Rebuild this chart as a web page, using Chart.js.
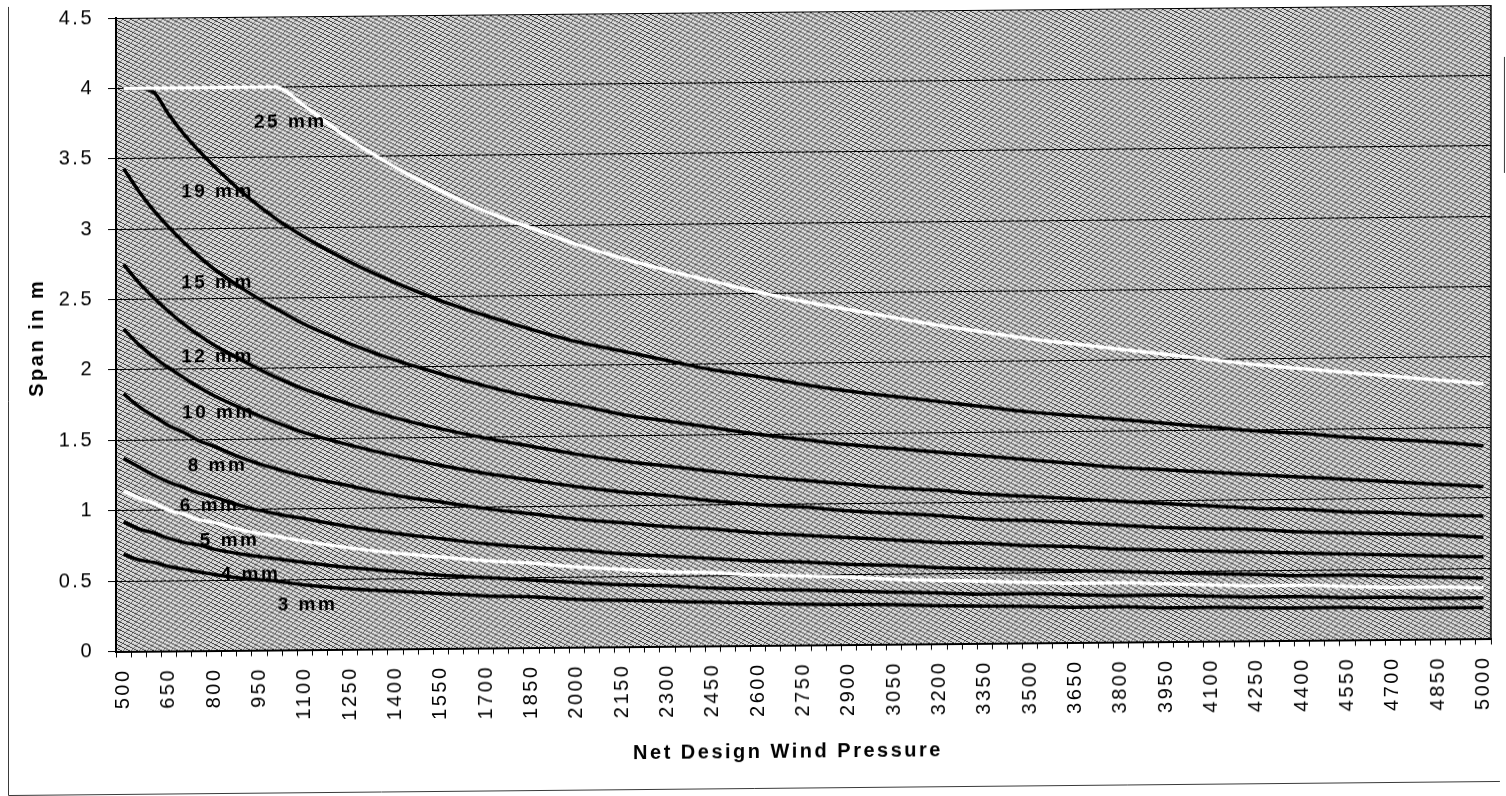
<!DOCTYPE html>
<html>
<head>
<meta charset="utf-8">
<script src="https://cdn.jsdelivr.net/npm/chart.js@4.4.1/dist/chart.umd.min.js"></script>
<style>
  html, body { margin: 0; padding: 0; background: #fff; overflow: hidden; }
  #wrap { width: 1506px; height: 796px; transform: skewY(-0.54deg); transform-origin: 753px 398px; }
  canvas { display: block; }
</style>
</head>
<body>
<div id="wrap"><canvas id="chart" width="1506" height="796"></canvas></div>
<script>
// Category axis: net design wind pressure, one category per 50
const pressureLabels = [
  '500','550','600','650','700','750','800','850','900','950',
  '1000','1050','1100','1150','1200','1250','1300','1350','1400','1450',
  '1500','1550','1600','1650','1700','1750','1800','1850','1900','1950',
  '2000','2050','2100','2150','2200','2250','2300','2350','2400','2450',
  '2500','2550','2600','2650','2700','2750','2800','2850','2900','2950',
  '3000','3050','3100','3150','3200','3250','3300','3350','3400','3450',
  '3500','3550','3600','3650','3700','3750','3800','3850','3900','3950',
  '4000','4050','4100','4150','4200','4250','4300','4350','4400','4450',
  '4500','4550','4600','4650','4700','4750','4800','4850','4900','4950',
  '5000'
];

// Pressures at which the spans are given
const samplePressure = [500, 550, 600, 650, 700, 750, 800, 900, 1000, 1100, 1250, 1400, 1550, 1700, 1850,
  2000, 2150, 2300, 2450, 2600, 2750, 2900, 3050, 3200, 3350, 3500, 3650, 3800, 3950, 4100, 4250,
  4400, 4550, 4700, 4850, 5000];

// Span in m for each glass thickness
const span25 = [4.00, 4.00, 4.00, 4.00, 4.00, 4.00, 4.00, 4.00, 4.00, 3.86, 3.62, 3.42, 3.25, 3.10, 2.98,
  2.86, 2.76, 2.67, 2.59, 2.51, 2.44, 2.38, 2.32, 2.26, 2.21, 2.16, 2.12, 2.08, 2.04, 2.00, 1.96,
  1.93, 1.90, 1.87, 1.84, 1.81];
const span19 = [4.00, 4.00, 3.97, 3.81, 3.67, 3.55, 3.44, 3.24, 3.07, 2.93, 2.75, 2.60, 2.47, 2.36, 2.26,
  2.17, 2.10, 2.03, 1.96, 1.91, 1.85, 1.80, 1.76, 1.72, 1.68, 1.64, 1.61, 1.58, 1.55, 1.52, 1.49,
  1.47, 1.44, 1.42, 1.40, 1.37];
const span15 = [3.43, 3.27, 3.13, 3.01, 2.90, 2.80, 2.71, 2.56, 2.43, 2.31, 2.17, 2.05, 1.95, 1.86, 1.78,
  1.72, 1.65, 1.60, 1.55, 1.50, 1.46, 1.42, 1.39, 1.36, 1.33, 1.30, 1.27, 1.24, 1.22, 1.20, 1.18,
  1.16, 1.14, 1.12, 1.10, 1.08];
const span12 = [2.75, 2.62, 2.51, 2.41, 2.32, 2.24, 2.17, 2.05, 1.94, 1.85, 1.74, 1.64, 1.56, 1.49, 1.43,
  1.37, 1.32, 1.28, 1.24, 1.20, 1.17, 1.14, 1.11, 1.09, 1.06, 1.04, 1.02, 1.00, 0.98, 0.96, 0.94,
  0.93, 0.91, 0.90, 0.88, 0.87];
const span10 = [2.29, 2.18, 2.09, 2.01, 1.94, 1.87, 1.81, 1.71, 1.62, 1.54, 1.45, 1.37, 1.30, 1.24, 1.19,
  1.14, 1.10, 1.07, 1.03, 1.00, 0.98, 0.95, 0.93, 0.91, 0.88, 0.87, 0.85, 0.83, 0.81, 0.80, 0.79,
  0.77, 0.76, 0.75, 0.74, 0.72];
const span8 = [1.83, 1.74, 1.67, 1.60, 1.55, 1.49, 1.45, 1.36, 1.29, 1.23, 1.16, 1.09, 1.04, 0.99, 0.95,
  0.91, 0.88, 0.85, 0.83, 0.80, 0.78, 0.76, 0.74, 0.72, 0.71, 0.69, 0.68, 0.66, 0.65, 0.64, 0.63,
  0.62, 0.61, 0.60, 0.59, 0.58];
const span6 = [1.37, 1.31, 1.25, 1.20, 1.16, 1.12, 1.09, 1.02, 0.97, 0.93, 0.87, 0.82, 0.78, 0.74, 0.71,
  0.69, 0.66, 0.64, 0.62, 0.60, 0.59, 0.57, 0.56, 0.54, 0.53, 0.52, 0.51, 0.50, 0.49, 0.48, 0.47,
  0.46, 0.46, 0.45, 0.44, 0.43];
const span5 = [1.14, 1.09, 1.05, 1.00, 0.97, 0.93, 0.91, 0.85, 0.81, 0.77, 0.72, 0.68, 0.65, 0.62, 0.60,
  0.57, 0.55, 0.53, 0.52, 0.50, 0.49, 0.48, 0.46, 0.45, 0.44, 0.43, 0.42, 0.42, 0.41, 0.40, 0.39,
  0.39, 0.38, 0.37, 0.37, 0.36];
const span4 = [0.92, 0.87, 0.84, 0.80, 0.77, 0.75, 0.72, 0.68, 0.65, 0.62, 0.58, 0.55, 0.52, 0.50, 0.48,
  0.46, 0.44, 0.43, 0.41, 0.40, 0.39, 0.38, 0.37, 0.36, 0.35, 0.35, 0.34, 0.33, 0.33, 0.32, 0.31,
  0.31, 0.30, 0.30, 0.29, 0.29];
const span3 = [0.69, 0.65, 0.63, 0.60, 0.58, 0.56, 0.54, 0.51, 0.49, 0.46, 0.43, 0.41, 0.39, 0.37, 0.36,
  0.34, 0.33, 0.32, 0.31, 0.30, 0.29, 0.285, 0.28, 0.27, 0.265, 0.26, 0.25, 0.25, 0.24, 0.24, 0.235,
  0.23, 0.23, 0.22, 0.22, 0.22];

const seriesNames = ['25 mm', '19 mm', '15 mm', '12 mm', '10 mm', '8 mm', '6 mm', '5 mm', '4 mm', '3 mm'];
const seriesValues = [span25, span19, span15, span12, span10, span8, span6, span5, span4, span3];
const seriesColors = ['#ffffff', '#000000', '#000000', '#000000', '#000000', '#000000', '#000000', '#ffffff', '#000000', '#000000'];

// Where each thickness label sits: [pressure, span]
const labelAnchors = [[1052, 3.75], [811, 3.26], [811, 2.61], [811, 2.085], [814, 1.69],
  [811, 1.31], [785, 1.03], [851, 0.78], [920, 0.54], [1109, 0.32]];

// Span axis tick values and their labels
const yTicks = [0, 0.5, 1, 1.5, 2, 2.5, 3, 3.5, 4, 4.5];
const yTickLabels = ['0', '0.5', '1', '1.5', '2', '2.5', '3', '3.5', '4', '4.5'];

const FONT = "'Liberation Sans', Arial, Helvetica, sans-serif";

// Grey cross-hatch for the plot area
function hatchPattern(ctx) {
  const c = document.createElement('canvas');
  c.width = 8; c.height = 8;
  const g = c.getContext('2d');
  g.fillStyle = '#dadada';
  g.fillRect(0, 0, 8, 8);
  g.fillStyle = '#808080';
  for (let y = 0; y < 8; y++) g.fillRect(7 - y, y, 1, 1);
  g.fillStyle = '#3e3e3e';
  for (let y = 0; y < 8; y++) { g.fillRect((2 * y) % 8, y, 1, 1); g.fillRect((2 * y + 1) % 8, y, 1, 1); }
  return ctx.createPattern(c, 'repeat');
}

const chartDecor = {
  id: 'chartDecor',
  beforeDraw(chart) {
    const { ctx, chartArea: a } = chart;
    ctx.letterSpacing = '2.5px';
    ctx.save();
    ctx.fillStyle = hatchPattern(ctx);
    ctx.fillRect(a.left, a.top, a.right - a.left, a.bottom - a.top);
    ctx.restore();
  },
  afterDatasetsDraw(chart) {
    const { ctx, chartArea: a, scales } = chart;
    ctx.save();
    // right edge of the plot area
    ctx.strokeStyle = '#000';
    ctx.lineWidth = 1.5;
    ctx.beginPath();
    ctx.moveTo(a.right, a.top);
    ctx.lineTo(a.right, a.bottom);
    ctx.stroke();
    // thickness labels
    ctx.font = 'bold 19px ' + FONT;
    ctx.fillStyle = '#000';
    ctx.textAlign = 'center';
    ctx.textBaseline = 'middle';
    labelAnchors.forEach(([p, s], i) => {
      const x = scales.x.getPixelForValue((p - 500) / 50);
      const y = scales.y.getPixelForValue(s);
      ctx.fillText(seriesNames[i], x, y);
    });
    ctx.restore();
  },
  afterDraw(chart) {
    const { ctx, chartArea: a } = chart;
    ctx.save();
    // outer frame
    ctx.strokeStyle = '#3a3a3a';
    ctx.lineWidth = 1;
    ctx.beginPath();
    ctx.moveTo(8.5, 0); ctx.lineTo(8.5, 788.5); ctx.lineTo(1500, 788.5);
    ctx.moveTo(1504.5, 64); ctx.lineTo(1504.5, 180);
    ctx.stroke();
    // axis titles
    ctx.fillStyle = '#000';
    ctx.font = 'bold 20px ' + FONT;
    ctx.textAlign = 'center';
    ctx.textBaseline = 'middle';
    ctx.fillText('Net Design Wind Pressure', a.left + 672, 752);
    ctx.translate(37, 331);
    ctx.rotate(-Math.PI / 2);
    ctx.fillText('Span in m', 0, 0);
    ctx.restore();
  }
};

new Chart(document.getElementById('chart'), {
  type: 'line',
  data: {
    labels: pressureLabels,
    datasets: seriesValues.map((vals, i) => ({
      label: seriesNames[i],
      data: samplePressure.map((p, j) => ({ x: String(p), y: vals[j] })),
      borderColor: seriesColors[i],
      borderWidth: 3.5,
      pointRadius: 0,
      fill: false,
      cubicInterpolationMode: 'monotone'
    }))
  },
  options: {
    responsive: false,
    animation: false,
    devicePixelRatio: 1,
    layout: { padding: { top: 12, right: 15, bottom: 0, left: 0 } },
    plugins: { legend: { display: false }, tooltip: { enabled: false } },
    scales: {
      x: {
        type: 'category',
        offset: true,
        grid: { display: true, offset: true, drawOnChartArea: false, drawTicks: true, tickLength: 6, color: '#000', lineWidth: 1 },
        border: { display: true, color: '#000', width: 2 },
        ticks: {
          autoSkip: false, maxRotation: 90, minRotation: 90, padding: 11, color: '#000',
          font: { family: FONT, size: 20 },
          callback(v, i) { return i % 3 === 0 ? this.getLabelForValue(v) : ''; }
        },
        afterFit(s) { s.height = 150.5; s.paddingLeft = 0; s.paddingRight = 0; }
      },
      y: {
        min: 0, max: 4.5,
        afterBuildTicks(s) { s.ticks = yTicks.map(v => ({ value: v })); },
        ticks: {
          padding: 14, color: '#000', font: { family: FONT, size: 20 },
          callback(v) { return yTickLabels[yTicks.indexOf(v)]; }
        },
        grid: { color: '#000', lineWidth: 1, tickLength: 8, drawTicks: true },
        border: { display: true, color: '#000', width: 2 },
        afterFit(s) { s.width = 116; s.paddingTop = 0; s.paddingBottom = 0; }
      }
    }
  },
  plugins: [chartDecor]
});
</script>
</body>
</html>
